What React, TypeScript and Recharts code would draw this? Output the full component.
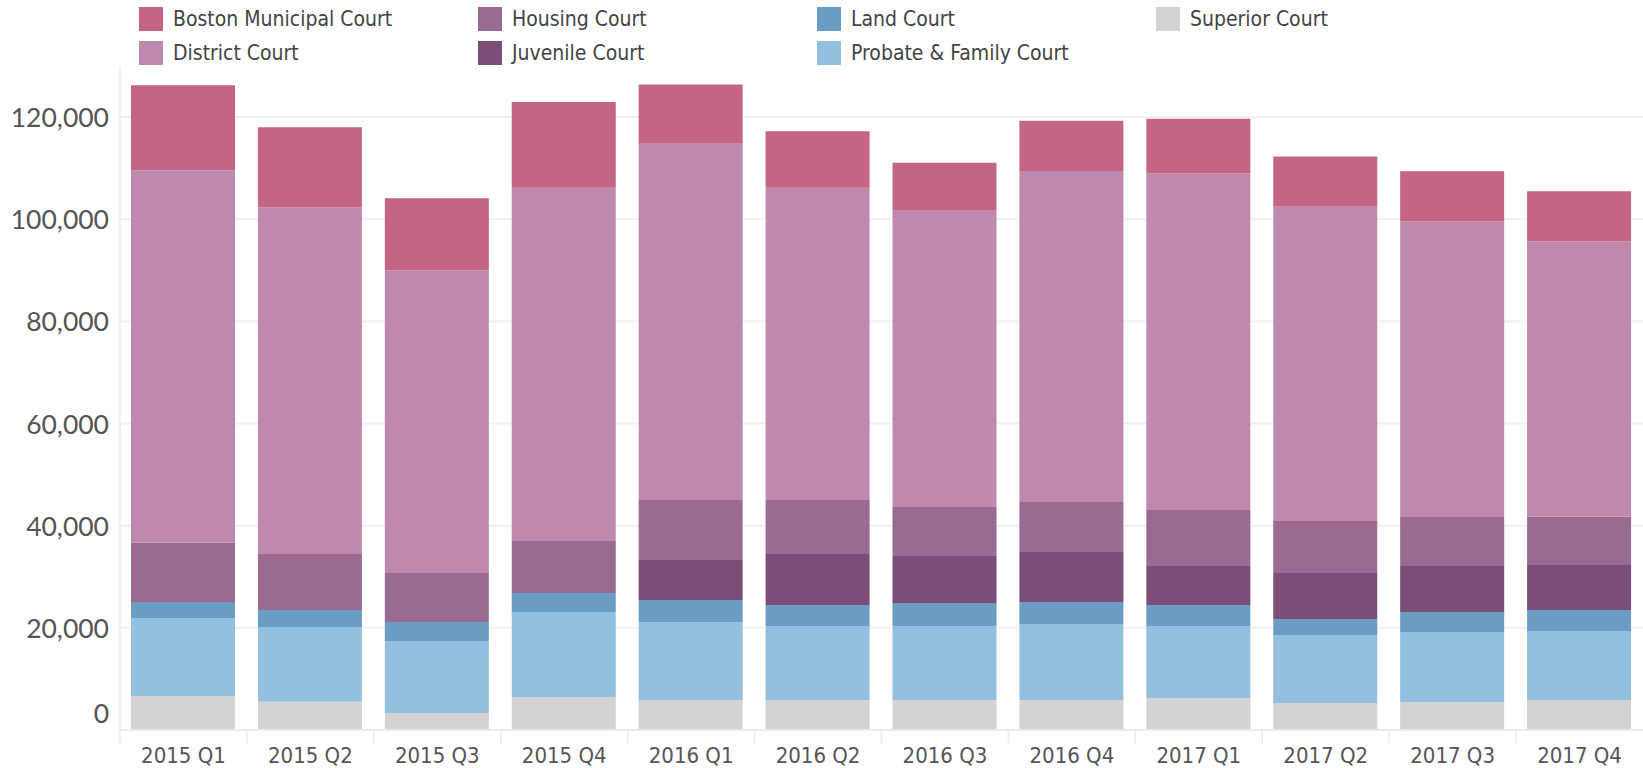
import React from "react";
import { BarChart, Bar, XAxis, YAxis, CartesianGrid } from "recharts";

const quarters = [
  "2015 Q1", "2015 Q2", "2015 Q3", "2015 Q4",
  "2016 Q1", "2016 Q2", "2016 Q3", "2016 Q4",
  "2017 Q1", "2017 Q2", "2017 Q3", "2017 Q4",
];

// stacked bottom -> top
const superior = [6650, 5540, 3330, 6460, 5870, 5870, 5870, 5870, 6260, 5280, 5480, 5870];
const probate = [15270, 14620, 14090, 16630, 15260, 14480, 14480, 14870, 14090, 13310, 13700, 13530];
const land = [3130, 3320, 3710, 3720, 4310, 4110, 4500, 4310, 4110, 3130, 3910, 4100];
const juvenile = [0, 0, 0, 0, 7830, 9980, 9200, 9780, 7630, 9000, 9000, 8820];
const housing = [11680, 10960, 9590, 10180, 11740, 10570, 9590, 9790, 10960, 10180, 9590, 9430];
const district = [72860, 67910, 59300, 69160, 69750, 61140, 58000, 64810, 65970, 61550, 57930, 53940];
const bmc = [16630, 15650, 14090, 16810, 11640, 11070, 9420, 9840, 10660, 9840, 9780, 9790];

const yTicks = [0, 20000, 40000, 60000, 80000, 100000, 120000];
const yMax = 130000;

const series = [
  { key: "superior", name: "Superior Court", color: "#D3D3D3", values: superior },
  { key: "probate", name: "Probate & Family Court", color: "#93C0DF", values: probate },
  { key: "land", name: "Land Court", color: "#6A9CC4", values: land },
  { key: "juvenile", name: "Juvenile Court", color: "#7C4D78", values: juvenile },
  { key: "housing", name: "Housing Court", color: "#9A6A93", values: housing },
  { key: "district", name: "District Court", color: "#BF89AD", values: district },
  { key: "bmc", name: "Boston Municipal Court", color: "#C46586", values: bmc },
];

// legend is column-major, alphabetical
const legendOrder = [
  "Boston Municipal Court", "District Court",
  "Housing Court", "Juvenile Court",
  "Land Court", "Probate & Family Court",
  "Superior Court",
];

const data = quarters.map((q, i) => {
  const row: Record<string, number | string> = { quarter: q };
  series.forEach((s) => (row[s.key] = s.values[i]));
  return row;
});

const condensed = "'DejaVu Sans Condensed', 'Liberation Sans Narrow', 'Roboto Condensed', sans-serif";

const YTick = (props: any) => {
  const { x, y, payload } = props;
  const v = payload.value as number;
  return (
    <text
      x={x}
      y={v === 0 ? y - 17 : y}
      textAnchor="end"
      dominantBaseline="central"
      fill="#555"
      fontSize={26.5}
      fontFamily="Lato, sans-serif"
    >
      {v.toLocaleString("en-US")}
    </text>
  );
};

const XTick = (props: any) => {
  const { x, y, payload } = props;
  return (
    <g>
      <line x1={x - 63.5} x2={x - 63.5} y1={y} y2={y + 14} stroke="#ececec" strokeWidth={1.5} />
      <text
        x={x}
        y={y + 25}
        textAnchor="middle"
        dominantBaseline="central"
        fill="#555"
        fontSize={22}
        fontFamily={condensed}
        style={{ fontStretch: "condensed" }}
      >
        {payload.value}
      </text>
    </g>
  );
};

// only the tick values, no line at the top of the plot
const gridRows = ({ offset }: any) =>
  yTicks.map((v) => offset.top + offset.height * (1 - v / yMax));

function Legend() {
  return (
    <div style={{ position: "absolute", left: 0, top: 0, width: 1643, height: 70 }}>
      {legendOrder.map((name, i) => {
        const s = series.find((d) => d.name === name)!;
        const col = Math.floor(i / 2);
        const row = i % 2;
        return (
          <div
            key={name}
            style={{
              position: "absolute",
              left: 139 + col * 339,
              top: 7 + row * 34,
              height: 24,
              display: "flex",
              alignItems: "center",
            }}
          >
            <div style={{ width: 24, height: 24, background: s.color }} />
            <span
              style={{
                marginLeft: 10,
                fontSize: 21,
                color: "#444",
                fontFamily: condensed,
                fontStretch: "condensed",
                whiteSpace: "nowrap",
              }}
            >
              {name}
            </span>
          </div>
        );
      })}
    </div>
  );
}

export default function App() {
  return (
    <div style={{ position: "absolute", left: 0, top: 0, width: 1643, height: 768, background: "#fff" }}>
      <BarChart
        width={1643}
        height={768}
        data={data}
        margin={{ top: 66, right: 0, left: 0, bottom: 0 }}
        barSize={104}
      >
        <CartesianGrid
          vertical={false}
          stroke="#f0f0f0"
          strokeWidth={2}
          horizontalCoordinatesGenerator={gridRows}
        />
        <XAxis
          dataKey="quarter"
          height={38}
          tickLine={false}
          tickSize={0}
          tickMargin={0}
          axisLine={{ stroke: "#ececec", strokeWidth: 2 }}
          tick={<XTick />}
          interval={0}
        />
        <YAxis
          width={120}
          domain={[0, yMax]}
          ticks={yTicks}
          tickLine={false}
          tickSize={0}
          tickMargin={11}
          axisLine={{ stroke: "#f0f0f0", strokeWidth: 2 }}
          tick={<YTick />}
        />
        {series.map((s) => (
          <Bar key={s.key} dataKey={s.key} name={s.name} stackId="a" fill={s.color} isAnimationActive={false} />
        ))}
      </BarChart>
      <Legend />
    </div>
  );
}
